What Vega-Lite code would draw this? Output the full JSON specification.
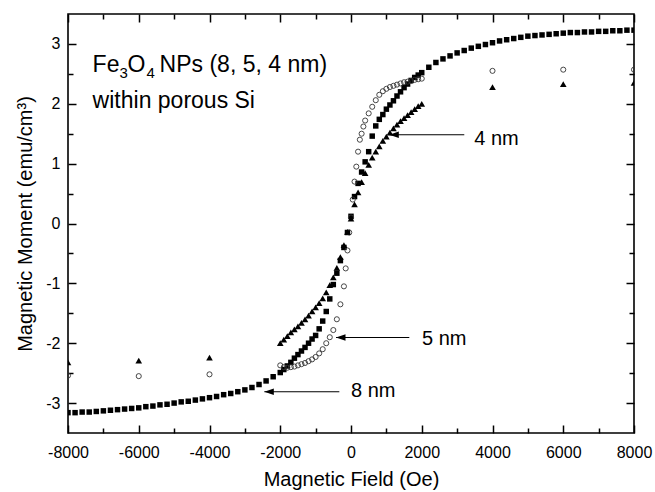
{
  "$schema": "https://vega.github.io/schema/vega-lite/v6.json",
  "width": 566,
  "height": 419,
  "autosize": {"type": "none"},
  "padding": {"left": 68, "top": 14, "right": 21, "bottom": 59},
  "background": "white",
  "config": {
    "view": {"stroke": "black", "strokeWidth": 1.6},
    "font": "Liberation Sans",
    "axis": {"grid": false, "domain": false, "tickColor": "black", "tickWidth": 1.5, "labelColor": "black", "labelFont": "Liberation Sans", "labelFontSize": 16, "titleFont": "Liberation Sans", "titleFontSize": 20, "titleFontWeight": "normal", "titleColor": "black", "labelFlush": false, "labelOverlap": false}
  },
  "datasets": {
    "pts": [
      {"s":"8","H":-8000,"M":-3.16},{"s":"8","H":-7800,"M":-3.16},{"s":"8","H":-7600,"M":-3.15},{"s":"8","H":-7400,"M":-3.15},{"s":"8","H":-7200,"M":-3.14},{"s":"8","H":-7000,"M":-3.13},{"s":"8","H":-6800,"M":-3.12},{"s":"8","H":-6600,"M":-3.11},{"s":"8","H":-6400,"M":-3.10},{"s":"8","H":-6200,"M":-3.09},{"s":"8","H":-6000,"M":-3.08},{"s":"8","H":-5800,"M":-3.06},{"s":"8","H":-5600,"M":-3.05},{"s":"8","H":-5400,"M":-3.03},{"s":"8","H":-5200,"M":-3.02},{"s":"8","H":-5000,"M":-3.00},{"s":"8","H":-4800,"M":-2.98},{"s":"8","H":-4600,"M":-2.97},{"s":"8","H":-4400,"M":-2.95},{"s":"8","H":-4200,"M":-2.93},{"s":"8","H":-4000,"M":-2.91},{"s":"8","H":-3800,"M":-2.89},{"s":"8","H":-3600,"M":-2.86},{"s":"8","H":-3400,"M":-2.84},{"s":"8","H":-3200,"M":-2.81},{"s":"8","H":-3000,"M":-2.78},{"s":"8","H":-2800,"M":-2.74},{"s":"8","H":-2600,"M":-2.69},{"s":"8","H":-2400,"M":-2.63},{"s":"8","H":-2200,"M":-2.56},{"s":"8","H":-2000,"M":-2.49},{"s":"8","H":-1900,"M":-2.44},{"s":"8","H":-1800,"M":-2.38},{"s":"8","H":-1700,"M":-2.32},{"s":"8","H":-1600,"M":-2.25},{"s":"8","H":-1500,"M":-2.19},{"s":"8","H":-1400,"M":-2.13},{"s":"8","H":-1300,"M":-2.07},{"s":"8","H":-1200,"M":-2.00},{"s":"8","H":-1100,"M":-1.93},{"s":"8","H":-1000,"M":-1.87},{"s":"8","H":-900,"M":-1.76},{"s":"8","H":-800,"M":-1.63},{"s":"8","H":-700,"M":-1.47},{"s":"8","H":-600,"M":-1.26},{"s":"8","H":-500,"M":-1.02},{"s":"8","H":-400,"M":-0.83},{"s":"8","H":-300,"M":-0.62},{"s":"8","H":-200,"M":-0.40},{"s":"8","H":-100,"M":-0.15},{"s":"8","H":0,"M":0.12},{"s":"8","H":100,"M":0.45},{"s":"8","H":200,"M":0.67},{"s":"8","H":300,"M":0.86},{"s":"8","H":400,"M":1.03},{"s":"8","H":500,"M":1.20},{"s":"8","H":600,"M":1.46},{"s":"8","H":700,"M":1.63},{"s":"8","H":800,"M":1.74},{"s":"8","H":900,"M":1.82},{"s":"8","H":1000,"M":1.91},{"s":"8","H":1100,"M":1.98},{"s":"8","H":1200,"M":2.05},{"s":"8","H":1300,"M":2.13},{"s":"8","H":1400,"M":2.20},{"s":"8","H":1500,"M":2.27},{"s":"8","H":1600,"M":2.33},{"s":"8","H":1700,"M":2.39},{"s":"8","H":1800,"M":2.44},{"s":"8","H":1900,"M":2.48},{"s":"8","H":2000,"M":2.52},{"s":"8","H":2200,"M":2.61},{"s":"8","H":2400,"M":2.69},{"s":"8","H":2600,"M":2.75},{"s":"8","H":2800,"M":2.80},{"s":"8","H":3000,"M":2.85},{"s":"8","H":3200,"M":2.89},{"s":"8","H":3400,"M":2.93},{"s":"8","H":3600,"M":2.96},{"s":"8","H":3800,"M":2.99},{"s":"8","H":4000,"M":3.02},{"s":"8","H":4200,"M":3.05},{"s":"8","H":4400,"M":3.07},{"s":"8","H":4600,"M":3.09},{"s":"8","H":4800,"M":3.11},{"s":"8","H":5000,"M":3.13},{"s":"8","H":5200,"M":3.14},{"s":"8","H":5400,"M":3.15},{"s":"8","H":5600,"M":3.16},{"s":"8","H":5800,"M":3.17},{"s":"8","H":6000,"M":3.18},{"s":"8","H":6200,"M":3.19},{"s":"8","H":6400,"M":3.19},{"s":"8","H":6600,"M":3.20},{"s":"8","H":6800,"M":3.20},{"s":"8","H":7000,"M":3.21},{"s":"8","H":7200,"M":3.21},{"s":"8","H":7400,"M":3.22},{"s":"8","H":7600,"M":3.22},{"s":"8","H":7800,"M":3.23},{"s":"8","H":8000,"M":3.23},

      {"s":"5","H":-8000,"M":-2.54},{"s":"5","H":-6000,"M":-2.55},{"s":"5","H":-4000,"M":-2.52},
      {"s":"5","H":-2000,"M":-2.37},{"s":"5","H":-1900,"M":-2.40},{"s":"5","H":-1800,"M":-2.41},{"s":"5","H":-1700,"M":-2.40},{"s":"5","H":-1600,"M":-2.39},{"s":"5","H":-1500,"M":-2.37},{"s":"5","H":-1400,"M":-2.35},{"s":"5","H":-1300,"M":-2.33},{"s":"5","H":-1200,"M":-2.30},{"s":"5","H":-1100,"M":-2.27},{"s":"5","H":-1000,"M":-2.23},{"s":"5","H":-900,"M":-2.17},{"s":"5","H":-800,"M":-2.10},{"s":"5","H":-700,"M":-2.00},{"s":"5","H":-600,"M":-1.90},{"s":"5","H":-500,"M":-1.78},{"s":"5","H":-400,"M":-1.60},{"s":"5","H":-300,"M":-1.35},{"s":"5","H":-200,"M":-1.05},{"s":"5","H":-150,"M":-0.75},{"s":"5","H":-100,"M":-0.45},{"s":"5","H":-50,"M":-0.15},{"s":"5","H":0,"M":0.10},{"s":"5","H":50,"M":0.40},{"s":"5","H":100,"M":0.70},{"s":"5","H":150,"M":0.95},{"s":"5","H":200,"M":1.20},{"s":"5","H":250,"M":1.40},{"s":"5","H":300,"M":1.50},{"s":"5","H":350,"M":1.62},{"s":"5","H":400,"M":1.72},{"s":"5","H":500,"M":1.84},{"s":"5","H":600,"M":1.95},{"s":"5","H":700,"M":2.06},{"s":"5","H":800,"M":2.15},{"s":"5","H":900,"M":2.21},{"s":"5","H":1000,"M":2.25},{"s":"5","H":1100,"M":2.28},{"s":"5","H":1200,"M":2.30},{"s":"5","H":1300,"M":2.32},{"s":"5","H":1400,"M":2.34},{"s":"5","H":1500,"M":2.36},{"s":"5","H":1600,"M":2.37},{"s":"5","H":1700,"M":2.38},{"s":"5","H":1800,"M":2.40},{"s":"5","H":1900,"M":2.41},{"s":"5","H":2000,"M":2.42},
      {"s":"5","H":4000,"M":2.55},{"s":"5","H":6000,"M":2.57},{"s":"5","H":8000,"M":2.57},

      {"s":"4","H":-8000,"M":-2.32},{"s":"4","H":-6000,"M":-2.29},{"s":"4","H":-4000,"M":-2.24},
      {"s":"4","H":-2000,"M":-2.00},{"s":"4","H":-1900,"M":-1.94},{"s":"4","H":-1800,"M":-1.88},{"s":"4","H":-1700,"M":-1.82},{"s":"4","H":-1600,"M":-1.77},{"s":"4","H":-1500,"M":-1.72},{"s":"4","H":-1400,"M":-1.66},{"s":"4","H":-1300,"M":-1.60},{"s":"4","H":-1200,"M":-1.54},{"s":"4","H":-1100,"M":-1.47},{"s":"4","H":-1000,"M":-1.40},{"s":"4","H":-900,"M":-1.33},{"s":"4","H":-800,"M":-1.25},{"s":"4","H":-700,"M":-1.15},{"s":"4","H":-600,"M":-1.03},{"s":"4","H":-500,"M":-0.90},{"s":"4","H":-400,"M":-0.74},{"s":"4","H":-300,"M":-0.56},{"s":"4","H":-200,"M":-0.36},{"s":"4","H":-100,"M":-0.14},{"s":"4","H":0,"M":0.08},{"s":"4","H":100,"M":0.32},{"s":"4","H":200,"M":0.52},{"s":"4","H":300,"M":0.69},{"s":"4","H":400,"M":0.84},{"s":"4","H":500,"M":0.98},{"s":"4","H":600,"M":1.10},{"s":"4","H":700,"M":1.20},{"s":"4","H":800,"M":1.29},{"s":"4","H":900,"M":1.38},{"s":"4","H":1000,"M":1.45},{"s":"4","H":1100,"M":1.52},{"s":"4","H":1200,"M":1.59},{"s":"4","H":1300,"M":1.65},{"s":"4","H":1400,"M":1.71},{"s":"4","H":1500,"M":1.76},{"s":"4","H":1600,"M":1.81},{"s":"4","H":1700,"M":1.86},{"s":"4","H":1800,"M":1.91},{"s":"4","H":1900,"M":1.96},{"s":"4","H":2000,"M":2.00},
      {"s":"4","H":4000,"M":2.28},{"s":"4","H":6000,"M":2.33},{"s":"4","H":8000,"M":2.35}
    ],
    "arrows": [
      {"lab":"4 nm","tip":1083,"tail":3202,"M":1.483,"tx":3485,"ty":1.317},
      {"lab":"5 nm","tip":-424,"tail":1648,"M":-1.905,"tx":2007,"ty":-2.033},
      {"lab":"8 nm","tip":-2450,"tail":-330,"M":-2.81,"tx":0,"ty":-2.905}
    ]
  },
  "resolve": {"scale": {"x": "shared", "y": "shared"}, "axis": {"x": "independent", "y": "independent"}},
  "layer": [
    {
      "data": {"name": "pts"},
      "transform": [{"filter": "datum.s == '8'"}],
      "mark": {"type": "point", "shape": "square", "filled": true, "color": "black", "size": 30, "opacity": 1, "clip": true},
      "encoding": {
        "x": {"field": "H", "type": "quantitative", "scale": {"domain": [-8000, 8000], "nice": false, "zero": false},
              "axis": {"orient": "bottom", "values": [-8000,-6000,-4000,-2000,0,2000,4000,6000,8000], "tickSize": -8, "labelPadding": 19, "labelExpr": "'' + datum.value", "title": "Magnetic Field (Oe)", "titlePadding": 9}},
        "y": {"field": "M", "type": "quantitative", "scale": {"domain": [-3.5, 3.5], "nice": false, "zero": false},
              "axis": {"orient": "left", "values": [-3,-2,-1,0,1,2,3], "tickSize": -8, "labelPadding": 16, "labelExpr": "'' + datum.value", "title": "Magnetic Moment (emu/cm³)", "titlePadding": 10}}
      }
    },
    {
      "data": {"name": "pts"},
      "transform": [{"filter": "datum.s == '5'"}],
      "mark": {"type": "point", "shape": "circle", "filled": false, "stroke": "#333333", "strokeWidth": 0.9, "size": 26, "opacity": 1, "clip": true},
      "encoding": {
        "x": {"field": "H", "type": "quantitative",
              "axis": {"orient": "bottom", "values": [-7000,-5000,-3000,-1000,1000,3000,5000,7000], "tickSize": -5, "labels": false, "title": null}},
        "y": {"field": "M", "type": "quantitative",
              "axis": {"orient": "left", "values": [-2.5,-1.5,-0.5,0.5,1.5,2.5], "tickSize": -5, "labels": false, "title": null}}
      }
    },
    {
      "data": {"name": "pts"},
      "transform": [{"filter": "datum.s == '4'"}],
      "mark": {"type": "point", "shape": "triangle-up", "filled": true, "color": "black", "size": 44, "opacity": 1, "clip": true},
      "encoding": {
        "x": {"field": "H", "type": "quantitative",
              "axis": {"orient": "top", "values": [-8000,-6000,-4000,-2000,0,2000,4000,6000,8000], "tickSize": -8, "labels": false, "title": null}},
        "y": {"field": "M", "type": "quantitative",
              "axis": {"orient": "right", "values": [-3,-2,-1,0,1,2,3], "tickSize": -8, "labels": false, "title": null}}
      }
    },
    {
      "data": {"name": "arrows"},
      "mark": {"type": "rule", "color": "black", "strokeWidth": 1.1},
      "encoding": {
        "x": {"field": "tip", "type": "quantitative",
              "axis": {"orient": "top", "values": [-7000,-5000,-3000,-1000,1000,3000,5000,7000], "tickSize": -5, "labels": false, "title": null}},
        "x2": {"field": "tail"},
        "y": {"field": "M", "type": "quantitative",
              "axis": {"orient": "right", "values": [-2.5,-1.5,-0.5,0.5,1.5,2.5], "tickSize": -5, "labels": false, "title": null}}
      }
    },
    {
      "data": {"name": "arrows"},
      "mark": {"type": "point", "shape": "M0,0L2,-0.7L2,0.7Z", "filled": true, "color": "black", "size": 90, "opacity": 1},
      "encoding": {
        "x": {"field": "tip", "type": "quantitative", "axis": null},
        "y": {"field": "M", "type": "quantitative", "axis": null}
      }
    },
    {
      "data": {"name": "arrows"},
      "mark": {"type": "text", "align": "left", "baseline": "alphabetic", "fontSize": 20, "font": "Liberation Sans", "color": "black"},
      "encoding": {
        "x": {"field": "tx", "type": "quantitative", "axis": null},
        "y": {"field": "ty", "type": "quantitative", "axis": null},
        "text": {"field": "lab"}
      }
    },
    {
      "data": {"values": [{"t": "Fe"}]},
      "mark": {"type": "text", "align": "left", "baseline": "alphabetic", "fontSize": 23, "font": "Liberation Sans", "color": "black"},
      "encoding": {"x": {"datum": -7304, "type": "quantitative", "axis": null}, "y": {"datum": 2.538, "type": "quantitative", "axis": null}, "text": {"field": "t"}}
    },
    {
      "data": {"values": [{"t": "3"}]},
      "mark": {"type": "text", "align": "left", "baseline": "alphabetic", "fontSize": 15, "font": "Liberation Sans", "color": "black", "dx": 27, "dy": 6},
      "encoding": {"x": {"datum": -7304, "type": "quantitative", "axis": null}, "y": {"datum": 2.538, "type": "quantitative", "axis": null}, "text": {"field": "t"}}
    },
    {
      "data": {"values": [{"t": "O"}]},
      "mark": {"type": "text", "align": "left", "baseline": "alphabetic", "fontSize": 23, "font": "Liberation Sans", "color": "black", "dx": 35},
      "encoding": {"x": {"datum": -7304, "type": "quantitative", "axis": null}, "y": {"datum": 2.538, "type": "quantitative", "axis": null}, "text": {"field": "t"}}
    },
    {
      "data": {"values": [{"t": "4"}]},
      "mark": {"type": "text", "align": "left", "baseline": "alphabetic", "fontSize": 15, "font": "Liberation Sans", "color": "black", "dx": 54, "dy": 6},
      "encoding": {"x": {"datum": -7304, "type": "quantitative", "axis": null}, "y": {"datum": 2.538, "type": "quantitative", "axis": null}, "text": {"field": "t"}}
    },
    {
      "data": {"values": [{"t": "NPs (8, 5, 4 nm)"}]},
      "mark": {"type": "text", "align": "left", "baseline": "alphabetic", "fontSize": 23, "font": "Liberation Sans", "color": "black", "dx": 67},
      "encoding": {"x": {"datum": -7304, "type": "quantitative", "axis": null}, "y": {"datum": 2.538, "type": "quantitative", "axis": null}, "text": {"field": "t"}}
    },
    {
      "data": {"values": [{"t": "within porous Si"}]},
      "mark": {"type": "text", "align": "left", "baseline": "alphabetic", "fontSize": 23, "font": "Liberation Sans", "color": "black"},
      "encoding": {"x": {"datum": -7304, "type": "quantitative", "axis": null}, "y": {"datum": 1.928, "type": "quantitative", "axis": null}, "text": {"field": "t"}}
    }
  ]
}
